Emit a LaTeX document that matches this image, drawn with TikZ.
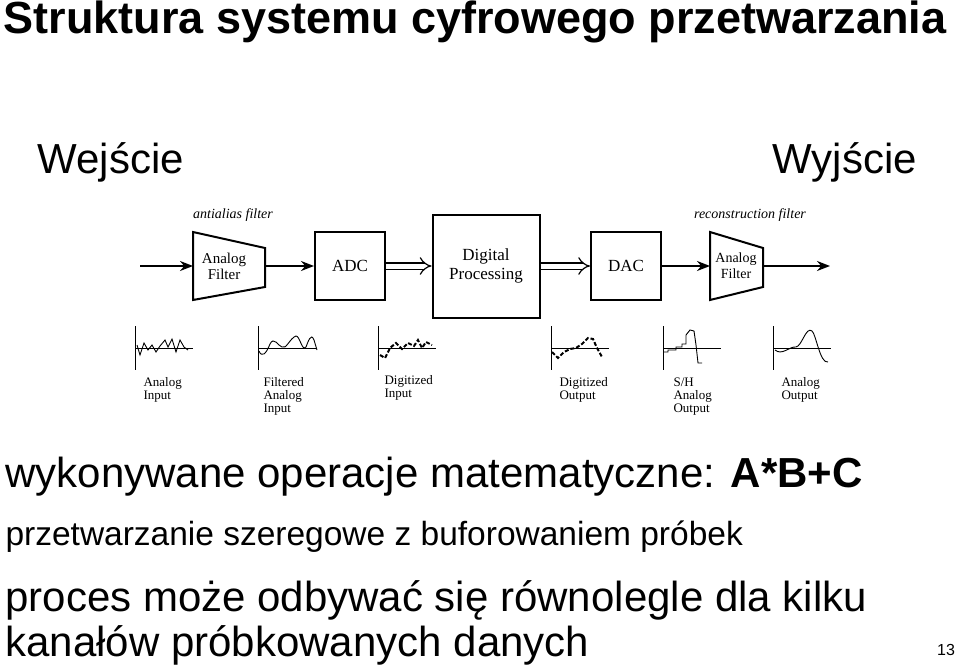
\documentclass[tikz,border=0pt]{standalone}
\usepackage{fontspec}
\setmainfont{Liberation Sans}
\newfontfamily\dgfont{Liberation Serif}
\usetikzlibrary{arrows.meta,positioning}
\tikzset{
  blok/.style={draw,line width=2pt,minimum width=70pt,minimum height=68pt,font=\dgfont\fontsize{17}{19}\selectfont,align=center},
  filtr/.style={font=\dgfont\fontsize{15}{16}\selectfont,align=center,inner sep=0pt},
  sig/.style={line width=1.8pt,-{Stealth[length=13pt,width=10pt]}},
  dsig/.style={double,double distance=5pt,line width=1.2pt,-{Implies}},
  opis/.style={font=\dgfont\fontsize{13}{13}\selectfont,align=left,anchor=north west},
  duzy/.style={font=\fontsize{42}{44}\selectfont,anchor=west},
  fala/.style={line width=0.9pt}
}
\begin{document}
\begin{tikzpicture}[x=1pt,y=-1pt]
\useasboundingbox (0,0) rectangle (960,671);

\node[anchor=west,font=\bfseries\fontsize{45}{46}\selectfont] (tyt) at (0,22) {Struktura systemu cyfrowego przetwarzania};
\node[duzy] (wej) at (34,162) {Wejście};
\node[duzy] (wyj) at (769,162) {Wyjście};

% filtry
\draw[line width=2pt] (193,232) -- (265,248) -- (265,287) -- (193,300) -- cycle;
\node[filtr] (f1) at (224,266) {Analog\\Filter};
\draw[line width=2pt] (710,232) -- (763,248) -- (763,287) -- (710,300) -- cycle;
\node[filtr,font=\dgfont\fontsize{14}{16}\selectfont] (f2) at (736,266) {Analog\\Filter};
\node[font=\dgfont\itshape\fontsize{14}{14}\selectfont] (aa) at (233,215) {antialias filter};
\node[font=\dgfont\itshape\fontsize{14}{14}\selectfont] (rf) at (750,215) {reconstruction filter};

\node[blok] (adc) at (350,266) {ADC};
\node[blok,minimum width=107pt,minimum height=103pt] (dp) at (486,266) {Digital\\Processing};
\node[blok] (dac) at (626,266) {DAC};

\coordinate (we) at (140,266);
\coordinate (wy) at (830,266);
\draw[sig] (we) -- (193,266);
\draw[sig] (265,266) -- (adc.west);
\draw[dsig] (adc.east) -- (dp.west);
\draw[dsig] (dp.east) -- (dac.west);
\draw[sig] (dac.east) -- (710,266);
\draw[sig] (763,266) -- (wy);

% wykresy
\foreach \x in {135,258,378,551,663,773} {
  \draw[line width=0.8pt] (\x,326) -- (\x,370);
  \draw[line width=0.6pt] (\x,348) -- (\x+58,348);
}
\draw[fala] (137,345) -- (140,355) -- (144,343) -- (148,350) -- (152,345) -- (156,352) -- (160,346) -- (165,340) -- (168,347) -- (172,339) -- (176,352) -- (180,340) -- (184,347) -- (188,350);
\draw[fala] (259,351) .. controls (262,358) and (266,354) .. (270,344) .. controls (274,336) and (278,346) .. (282,347) .. controls (286,350) and (290,338) .. (296,336) .. controls (300,336) and (302,352) .. (306,347) .. controls (308,342) and (311,332) .. (314,340) -- (317,350);
\draw[line width=2pt,dash pattern=on 4pt off 2pt] (380,355) -- (385,358) -- (390,348) -- (396,343) -- (402,349) -- (408,343) -- (414,346) -- (418,340) -- (422,348) -- (426,342) -- (432,345);
\draw[line width=2pt,dash pattern=on 4pt off 2pt] (552,352) -- (558,358) -- (564,352) -- (570,349) -- (576,348) -- (582,344) -- (588,338) -- (593,339) -- (597,348) -- (602,357);
\draw[fala] (664,352) -- (668,352) -- (668,350) -- (676,350) -- (676,347) -- (682,347) -- (682,344) -- (686,344) -- (686,335) -- (690,330) -- (694,331) -- (696,345) -- (698,363) -- (702,363);
\draw[fala] (775,350) .. controls (782,356) and (790,346) .. (796,347) .. controls (802,346) and (806,326) .. (812,331) .. controls (816,334) and (820,364) .. (828,362);

\node[opis] (o1) at (140,374) {Analog\\Input};
\node[opis] (o2) at (260,374) {Filtered\\Analog\\Input};
\node[opis] (o3) at (381,372) {Digitized\\Input};
\node[opis] (o4) at (556,374) {Digitized\\Output};
\node[opis] (o5) at (670,374) {S/H\\Analog\\Output};
\node[opis] (o6) at (778,374) {Analog\\Output};

% tekst
\node[duzy] (t1) at (2,477) {wykonywane operacje matematyczne: \textbf{A*B+C}};
\node[duzy,font=\fontsize{33.5}{36}\selectfont] (t2) at (2,537) {przetwarzanie szeregowe z buforowaniem próbek};
\node[duzy] (t3) at (2,600) {proces może odbywać się równolegle dla kilku};
\node[duzy] (t4) at (2,645) {kanałów próbkowanych danych};
\node[font=\fontsize{16}{16}\selectfont] (nr) at (946,650) {13};
\end{tikzpicture}
\end{document}
